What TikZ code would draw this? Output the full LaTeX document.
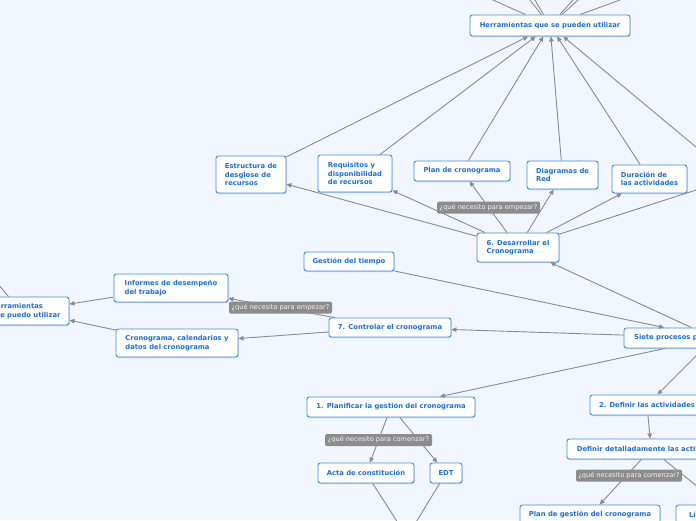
\documentclass[tikz,border=0pt]{standalone}
\usepackage{fontspec}
\newfontfamily\nodefont{DejaVu Sans}
\usetikzlibrary{arrows.meta,shadows}
\definecolor{bg}{HTML}{F2F6FE}
\definecolor{nodeborder}{HTML}{3A8DE6}
\definecolor{nodetext}{HTML}{1A70DA}
\definecolor{edgegray}{HTML}{8A8A94}
\definecolor{labelgray}{HTML}{8C8C8C}
\tikzset{
  topic/.style={draw=nodeborder, line width=0.9pt, fill=white, rounded corners=2.5pt,
    text=nodetext, font=\nodefont\bfseries\fontsize{6.8}{8.6}\selectfont, align=left,
    inner sep=0pt,
    drop shadow={shadow xshift=0.5pt, shadow yshift=-1pt, opacity=0.25, fill=nodeborder!70!black}},
  qlabel/.style={fill=labelgray, text=white!93!gray, rounded corners=1.5pt,
    font=\nodefont\fontsize{6.6}{7}\selectfont, inner sep=0pt, minimum height=12pt},
  link/.style={draw=edgegray, line width=0.9pt},
  arr/.style={link, -{Triangle[length=5pt,width=4.5pt]}},
}
\begin{document}
\begin{tikzpicture}[x=1pt,y=-1pt]
\path[use as bounding box, fill=bg] (0,0) rectangle (696,520);

% off-picture ends
\coordinate (T1) at (488.5,-2);
\coordinate (T2) at (528.4,-2);
\coordinate (T3) at (533.8,-2);
\coordinate (T4) at (574.8,-2);
\coordinate (T5) at (580.2,-2);
\coordinate (T6) at (625.5,-2);
\coordinate (R1) at (702,152);
\coordinate (R2) at (702,188.1);
\coordinate (B1) at (407,537);
\coordinate (TL) at (-10,274.8);

% nodes
\node[topic, minimum width=160pt, minimum height=21pt] (H) at (550,25.5) {Herramientas que se pueden utilizar};
\node[topic, minimum width=70pt, minimum height=37pt] (EDR) at (251,174.5) {Estructura de\\desglose de\\recursos};
\node[topic, minimum width=74pt, minimum height=37pt] (RDR) at (355,173.5) {Requisitos y\\disponibilidad\\de recursos};
\node[topic, minimum width=96pt, minimum height=20pt] (PC) at (462,171) {Plan de cronograma};
\node[topic, minimum width=71pt, minimum height=28pt] (DR) at (562.5,175) {Diagramas de\\Red};
\node[topic, minimum width=75pt, minimum height=28pt] (DA) at (649.5,179) {Duración de\\las actividades};
\node[topic, minimum width=82pt, minimum height=29pt] (D6) at (518,247.5) {6. Desarrollar el\\Cronograma};
\node[topic, minimum width=90pt, minimum height=19pt] (GT) at (349,261.5) {Gestión del tiempo};
\node[topic, minimum width=114pt, minimum height=28pt] (IDT) at (171,288) {Informes de desempeño\\del trabajo};
\node[topic, minimum width=87pt, minimum height=28pt] (HP) at (25.5,311) {Herramientas\\que puedo utilizar};
\node[topic, minimum width=122pt, minimum height=28pt] (CCD) at (177,343) {Cronograma, calendarios y\\datos del cronograma};
\node[topic, minimum width=122pt, minimum height=19pt] (C7) at (390,327.5) {7. Controlar el cronograma};
\node[topic, minimum width=180pt, minimum height=20pt] (SP) at (714,338) {Siete procesos para la gestión del tiempo};
\node[topic, minimum width=168pt, minimum height=20pt] (P1) at (391,407) {1. Planificar la gestión del cronograma};
\node[topic, minimum width=114pt, minimum height=20pt] (D2) at (647,405) {2. Definir las actividades};
\node[topic, minimum width=168pt, minimum height=20pt] (DD) at (651,449) {Definir detalladamente las actividades};
\node[topic, minimum width=96pt, minimum height=20pt] (AC) at (366,473) {Acta de constitución};
\node[topic, minimum width=32pt, minimum height=20pt] (EDT) at (446,473) {EDT};
\node[topic, minimum width=140pt, minimum height=20pt] (PGC) at (590,515) {Plan de gestión del cronograma};
\node[topic, minimum width=113pt, minimum height=20pt] (LB) at (732.5,515) {Línea base del alcance};

% connectors
\foreach \t in {T1,T2,T3,T4,T5,T6} \draw[link] (H) -- (\t);
\draw[arr] (R1) -- (H);
\draw[arr] (EDR) -- (H);
\draw[arr] (RDR) -- (H);
\draw[arr] (PC) -- (H);
\draw[arr] (DR) -- (H);
\draw[arr] (DA) -- (H);
\draw[arr] (D6) -- (EDR);
\draw[arr] (D6) -- (RDR);
\draw[arr] (D6) -- (PC);
\draw[arr] (D6) -- (DR);
\draw[arr] (D6) -- (DA);
\draw[link] (D6) -- (R2);
\draw[arr] (SP) -- (D6);
\draw[arr] (GT) -- (SP);
\draw[arr] (SP) -- (C7);
\draw[arr] (SP) -- (P1);
\draw[arr] (SP) -- (D2);
\draw[arr] (C7) -- (IDT);
\draw[arr] (C7) -- (CCD);
\draw[arr] (IDT) -- (HP);
\draw[arr] (CCD) -- (HP);
\draw[link] ([xshift=27pt]HP.north west) -- (TL);
\draw[arr] (P1) -- (AC);
\draw[arr] (P1) -- (EDT);
\draw[link] (AC) -- (B1);
\draw[link] (EDT) -- (B1);
\draw[arr] (D2) -- (DD);
\draw[arr] (DD) -- (PGC);
\draw[arr] (DD) -- (LB);

% labels
\node[qlabel, minimum width=103pt] (L1) at (488.5,207.5) {¿qué necesito para empezar?};
\node[qlabel, minimum width=103pt] (L2) at (280.5,307.5) {¿qué necesito para empezar?};
\node[qlabel, minimum width=107pt] (L3) at (378.5,440) {¿qué necesito para comenzar?};
\node[qlabel, minimum width=106pt] (L4) at (629,475.5) {¿qué necesito para comenzar?};
\end{tikzpicture}
\end{document}
